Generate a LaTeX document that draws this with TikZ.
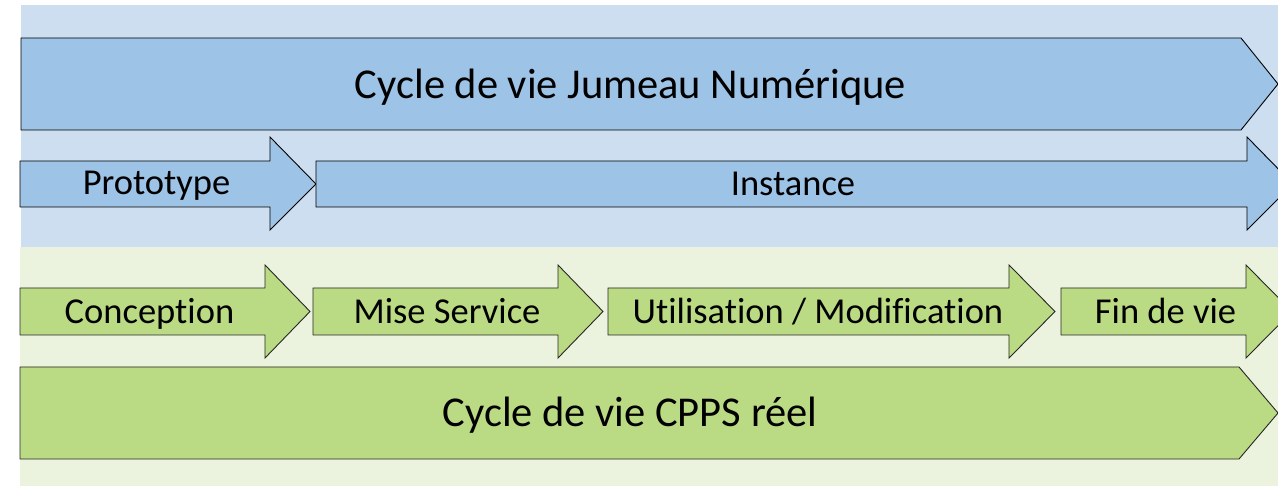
\documentclass[tikz,border=0pt]{standalone}
\usepackage{fontspec}
\setmainfont{Carlito}[Ligatures={NoCommon,NoContextual}]
\definecolor{bluebg}{HTML}{CDDEF0}
\definecolor{bluefill}{HTML}{9DC3E6}
\definecolor{greenbg}{HTML}{EBF3DF}
\definecolor{greenfill}{HTML}{BADB83}
\tikzset{
  shapeblue/.style={draw=black, line width=0.9pt, fill=bluefill, line join=miter},
  shapegreen/.style={draw=black!85, line width=0.9pt, fill=greenfill, line join=miter},
  biglabel/.style={anchor=base, inner sep=0pt, font=\fontsize{42.5}{50}\selectfont},
  smalllabel/.style={anchor=base, inner sep=0pt, font=\fontsize{36.5}{44}\selectfont},
}
\begin{document}
\begin{tikzpicture}[x=1pt,y=-1pt]
\useasboundingbox (0,0) rectangle (1278,486);
\clip (0,0) rectangle (1278,486);
% bands
\fill[bluebg] (21,5) rectangle (1278,247);
\fill[greenbg] (20,247) rectangle (1278,486);
% top pentagon
\draw[shapeblue] (21,38) -- (1241,38) -- (1278,84) -- (1241,130) -- (21,130) -- cycle;
\node[biglabel] (jn) at (630.5,99) {Cycle de vie Jumeau Numérique};
% Prototype / Instance
\draw[shapeblue] (20,161) -- (270,161) -- (270,137) -- (316,184) -- (270,230) -- (270,207) -- (20,207) -- cycle;
\node[smalllabel] (proto) at (156.5,195) {Prototype};
\draw[shapeblue] (316,161) -- (1247,161) -- (1247,137) -- (1293,184) -- (1247,230) -- (1247,207) -- (316,207) -- cycle;
\node[smalllabel] (inst) at (793,196) {Instance};
% green row
\draw[shapegreen] (20,288) -- (265,288) -- (265,265) -- (310,311.5) -- (265,358) -- (265,335) -- (20,335) -- cycle;
\node[smalllabel] (conc) at (149.5,323.5) {Conception};
\draw[shapegreen] (313,288) -- (558,288) -- (558,265) -- (603,311.5) -- (558,358) -- (558,335) -- (313,335) -- cycle;
\node[smalllabel] (mise) at (447,323.5) {Mise Service};
\draw[shapegreen] (608,288) -- (1009,288) -- (1009,265) -- (1055,311.5) -- (1009,358) -- (1009,335) -- (608,335) -- cycle;
\node[smalllabel] (util) at (818,323.5) {Utilisation / Modification};
\draw[shapegreen] (1061,288) -- (1246,288) -- (1246,265) -- (1292,311.5) -- (1246,358) -- (1246,335) -- (1061,335) -- cycle;
\node[smalllabel] (fin) at (1165.5,323.5) {Fin de vie};
% bottom pentagon
\draw[shapegreen] (20,367) -- (1239,367) -- (1278,413) -- (1239,459) -- (20,459) -- cycle;
\node[biglabel] (cpps) at (630,427) {Cycle de vie CPPS réel};
\end{tikzpicture}
\end{document}
